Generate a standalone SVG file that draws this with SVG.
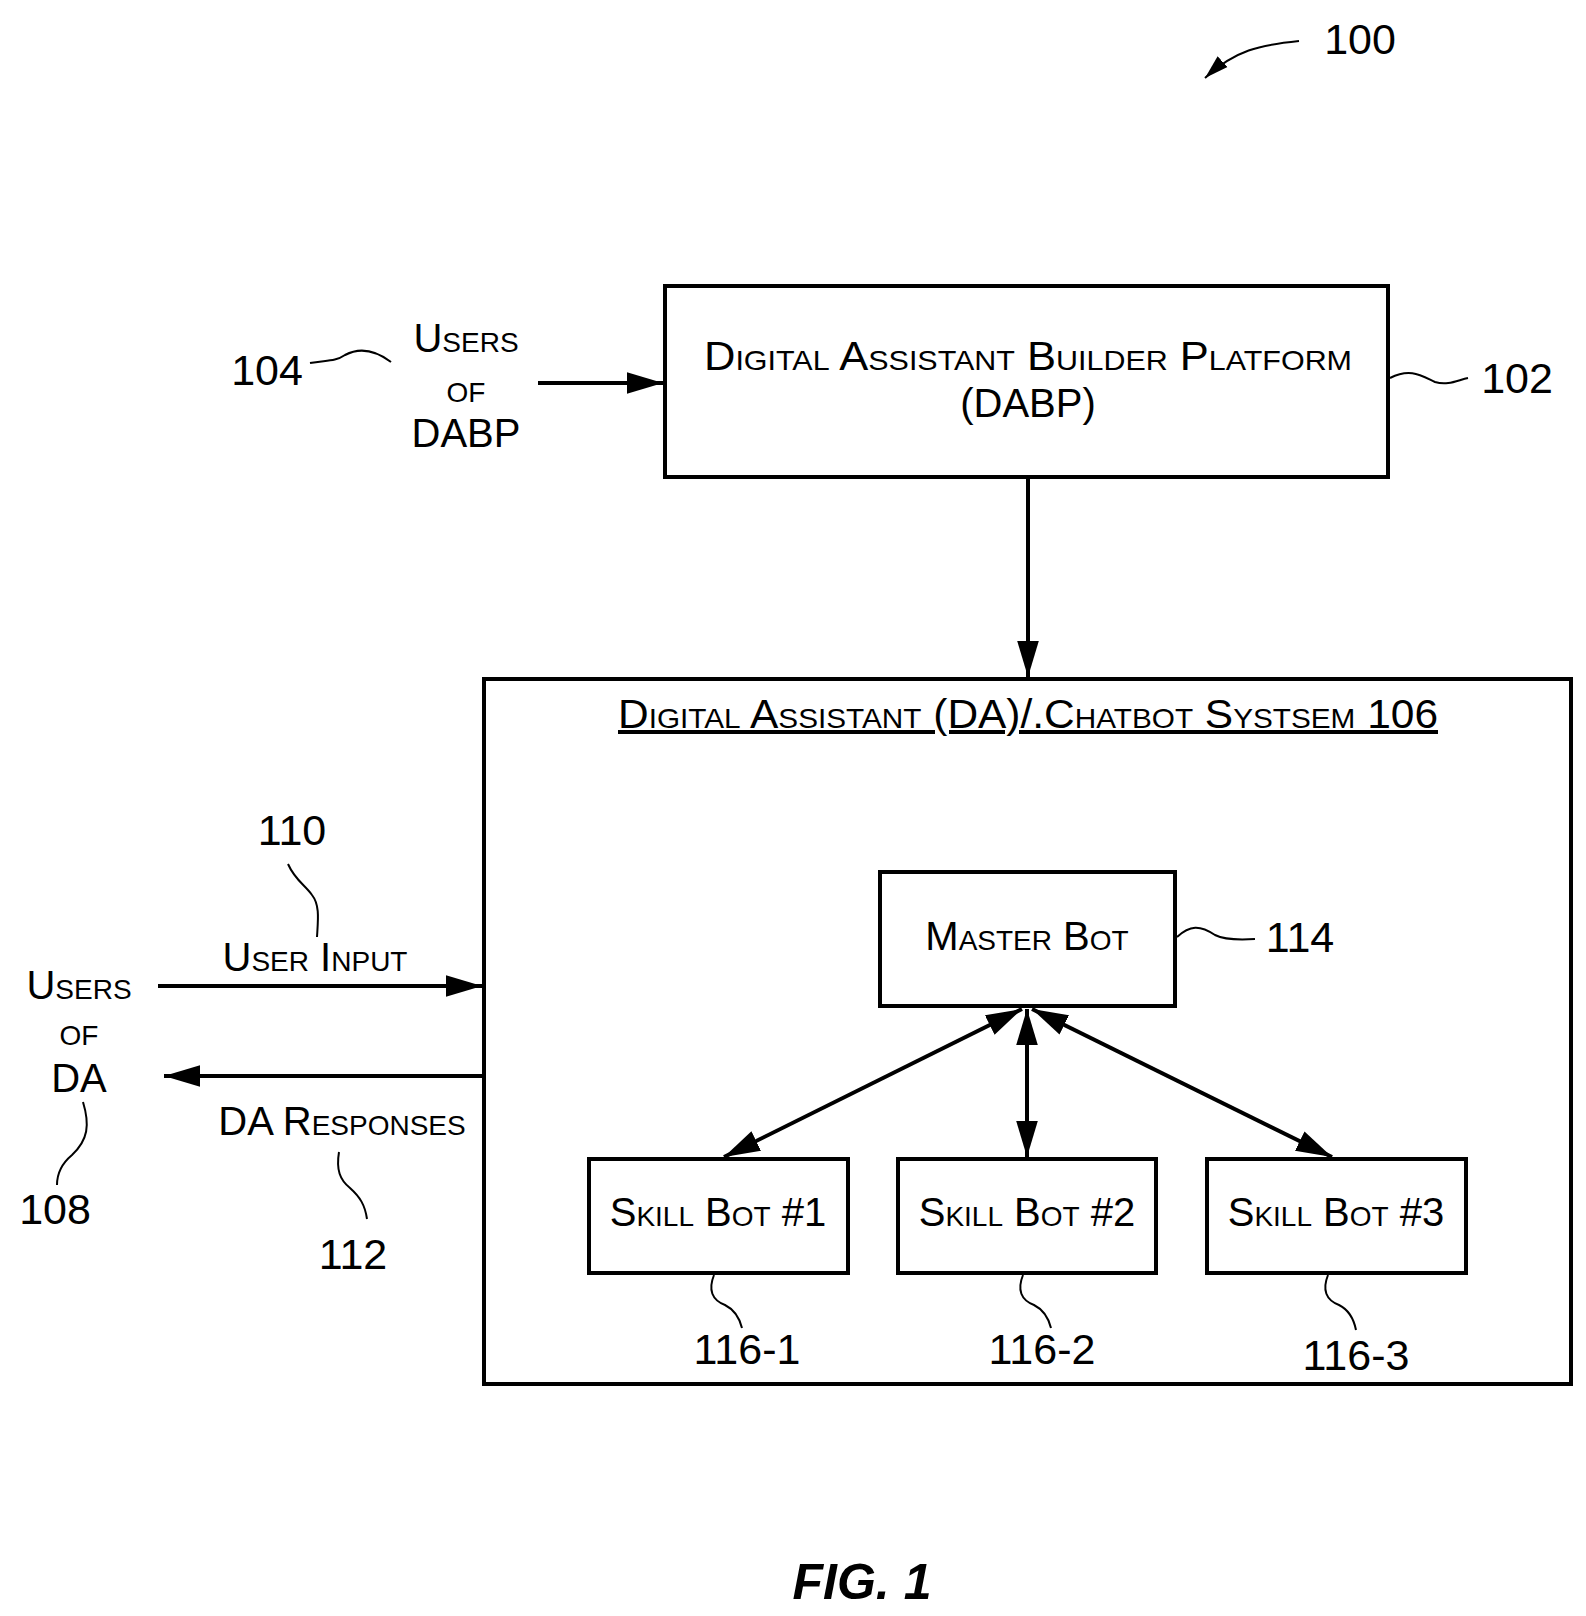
<svg xmlns="http://www.w3.org/2000/svg" width="1586" height="1616" viewBox="0 0 1586 1616">
<style>
.b{fill:#fff;stroke:#000;stroke-width:4}
.t{font-family:"Liberation Sans",Arial,sans-serif;font-size:40px;font-variant:small-caps;text-anchor:middle;fill:#000}
.n{font-family:"Liberation Sans",Arial,sans-serif;font-size:43px;text-anchor:middle;fill:#000}
.l{fill:none;stroke:#000;stroke-width:4}
.s{fill:none;stroke:#000;stroke-width:2}
</style>
<defs>
<marker id="a" viewBox="0 0 10 10" refX="10" refY="5" markerWidth="9" markerHeight="9" orient="auto-start-reverse" markerUnits="strokeWidth"><path d="M0,2 L10,5 L0,8 z" fill="#000"/></marker>
<marker id="a2" viewBox="0 0 10 10" refX="10" refY="5" markerWidth="12" markerHeight="12" orient="auto" markerUnits="strokeWidth"><path d="M0,2 L10,5 L0,8 z" fill="#000"/></marker>
</defs>
<rect width="1586" height="1616" fill="#fff"/>
<g id="ref100">
<text class="n" x="1360" y="54">100</text>
<path d="M1299,41 C1260,45 1235,50 1205,78" class="s" stroke-width="3" marker-end="url(#a2)"/>
</g>
<g id="dabp">
<rect class="b" x="665" y="286" width="723" height="191"/>
<text class="t" x="1028" y="370" textLength="648" lengthAdjust="spacingAndGlyphs">Digital Assistant Builder Platform</text>
<text class="t" x="1028" y="417">(DABP)</text>
<path class="s" d="M1390,378 C1410,368 1420,375 1435,382 C1448,386 1458,380 1468,378"/>
<text class="n" x="1517" y="393">102</text>
</g>
<g id="users-dabp">
<text class="t" x="466" y="352">Users</text>
<text class="t" x="466" y="402">of</text>
<text class="t" x="466" y="447">DABP</text>
<text class="n" x="267" y="385">104</text>
<path class="s" d="M310,363 C325,360 335,362 345,355 C360,347 375,350 391,362"/>
</g>
<g id="da">
<rect class="b" x="484" y="679" width="1087" height="705"/>
<text class="t" x="1028" y="728" text-decoration="underline" textLength="820" lengthAdjust="spacingAndGlyphs">Digital Assistant (DA)/.Chatbot Systsem 106</text>
</g>
<g id="master">
<rect class="b" x="880" y="872" width="295" height="134"/>
<text class="t" x="1027" y="950">Master Bot</text>
<path class="s" d="M1177,937 C1190,925 1200,925 1215,935 C1225,940 1240,940 1255,939"/>
<text class="n" x="1300" y="952">114</text>
</g>
<g id="skill1">
<rect class="b" x="589" y="1159" width="259" height="114"/>
<text class="t" x="718" y="1226">Skill Bot #1</text>
<path class="s" d="M714,1275 C708,1290 712,1300 725,1305 C735,1310 740,1320 742,1328"/>
<text class="n" x="747" y="1364">116-1</text>
</g>
<g id="skill2">
<rect class="b" x="898" y="1159" width="258" height="114"/>
<text class="t" x="1027" y="1226">Skill Bot #2</text>
<path class="s" d="M1023,1275 C1017,1290 1021,1300 1034,1305 C1044,1310 1049,1320 1051,1328"/>
<text class="n" x="1042" y="1364">116-2</text>
</g>
<g id="skill3">
<rect class="b" x="1207" y="1159" width="259" height="114"/>
<text class="t" x="1336" y="1226">Skill Bot #3</text>
<path class="s" d="M1328,1275 C1322,1290 1326,1300 1339,1305 C1349,1310 1354,1320 1356,1330"/>
<text class="n" x="1356" y="1370">116-3</text>
</g>
<g id="users-da">
<text class="t" x="79" y="999">Users</text>
<text class="t" x="79" y="1045">of</text>
<text class="t" x="79" y="1092">DA</text>
<path class="s" d="M83,1102 C90,1125 88,1140 72,1155 C60,1165 57,1175 57,1185"/>
<text class="n" x="55" y="1224">108</text>
</g>
<g id="labels">
<text class="n" x="292" y="845">110</text>
<path class="s" d="M288,864 C295,880 305,885 312,895 C320,905 318,920 317,937"/>
<text class="t" x="315" y="971">User Input</text>
<text class="t" x="342" y="1135">DA Responses</text>
<path class="s" d="M339,1152 C336,1170 340,1180 350,1188 C360,1197 365,1205 367,1219"/>
<text class="n" x="353" y="1269">112</text>
</g>
<g id="connectors">
<line class="l" x1="538" y1="383" x2="663" y2="383" marker-end="url(#a)"/>
<line class="l" x1="1028" y1="479" x2="1028" y2="677" marker-end="url(#a)"/>
<line class="l" x1="158" y1="986" x2="482" y2="986" marker-end="url(#a)"/>
<line class="l" x1="484" y1="1076" x2="164" y2="1076" marker-end="url(#a)"/>
<line class="l" x1="1022" y1="1009" x2="724" y2="1157" marker-start="url(#a)" marker-end="url(#a)"/>
<line class="l" x1="1027" y1="1009" x2="1027" y2="1157" marker-start="url(#a)" marker-end="url(#a)"/>
<line class="l" x1="1032" y1="1009" x2="1332" y2="1157" marker-start="url(#a)" marker-end="url(#a)"/>
</g>
<text x="862" y="1599" font-family="Liberation Sans,Arial,sans-serif" font-size="50" font-weight="bold" font-style="italic" text-anchor="middle">FIG. 1</text>
</svg>
